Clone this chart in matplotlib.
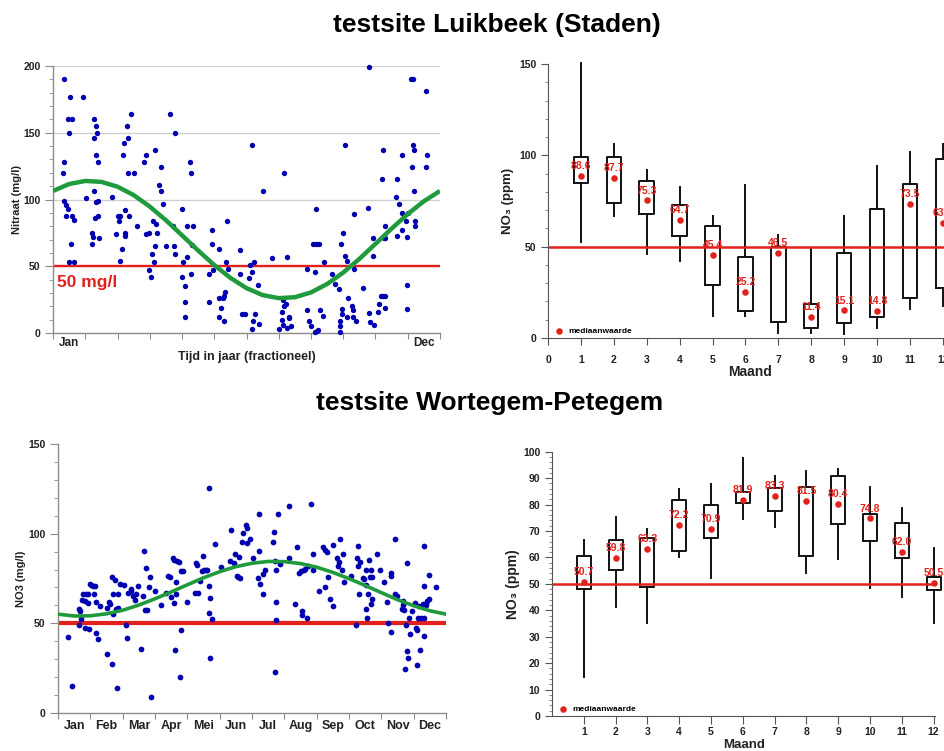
import matplotlib
matplotlib.use('Agg')
import matplotlib.pyplot as plt
from matplotlib.ticker import MultipleLocator

plt.rcParams['font.family'] = ['Liberation Sans', 'DejaVu Sans']
plt.rcParams['font.weight'] = 'bold'

RED = '#e3211c'
BLUE = '#0000b0'
GREEN = '#1f9a3c'

# ---------------- data ----------------
title_top = 'testsite Luikbeek (Staden)'
title_bottom = 'testsite Wortegem-Petegem'
months_nl = ['Jan', 'Feb', 'Mar', 'Apr', 'Mei', 'Jun', 'Jul', 'Aug', 'Sep', 'Oct', 'Nov', 'Dec']

# Luikbeek scatter: time as fraction of year, nitrate mg/l
luik_t = [0.028, 0.028, 0.026, 0.028, 0.034, 0.039, 0.034, 0.050, 0.053, 0.047, 0.041, 0.053, 0.043, 0.039,
          0.050, 0.041, 0.078, 0.086, 0.100, 0.102, 0.103, 0.106, 0.106, 0.112, 0.114, 0.110, 0.116, 0.106,
          0.112, 0.115, 0.108, 0.116, 0.119, 0.152, 0.163, 0.168, 0.171, 0.174, 0.174, 0.179, 0.182, 0.183,
          0.185, 0.186, 0.185, 0.190, 0.195, 0.195, 0.196, 0.201, 0.209, 0.216, 0.235, 0.239, 0.241, 0.247,
          0.247, 0.254, 0.255, 0.259, 0.264, 0.260, 0.264, 0.267, 0.269, 0.274, 0.278, 0.280, 0.283, 0.291,
          0.302, 0.309, 0.316, 0.313, 0.316, 0.334, 0.336, 0.334, 0.341, 0.342, 0.342, 0.347, 0.346, 0.353,
          0.356, 0.358, 0.362, 0.357, 0.403, 0.403, 0.411, 0.412, 0.414, 0.428, 0.429, 0.430, 0.435, 0.438,
          0.441, 0.444, 0.446, 0.441, 0.452, 0.449, 0.482, 0.484, 0.489, 0.496, 0.507, 0.510, 0.513, 0.513,
          0.513, 0.517, 0.520, 0.522, 0.530, 0.532, 0.542, 0.565, 0.584, 0.591, 0.592, 0.594, 0.596, 0.597,
          0.595, 0.601, 0.605, 0.609, 0.605, 0.610, 0.614, 0.657, 0.657, 0.662, 0.666, 0.671, 0.677, 0.679,
          0.679, 0.688, 0.677, 0.683, 0.685, 0.690, 0.697, 0.701, 0.720, 0.728, 0.740, 0.741, 0.741, 0.741,
          0.744, 0.747, 0.748, 0.750, 0.754, 0.754, 0.759, 0.759, 0.763, 0.772, 0.776, 0.776, 0.778, 0.779,
          0.783, 0.802, 0.814, 0.816, 0.817, 0.819, 0.826, 0.827, 0.830, 0.840, 0.843, 0.847, 0.851, 0.853,
          0.853, 0.855, 0.858, 0.858, 0.857, 0.859, 0.886, 0.888, 0.890, 0.895, 0.902, 0.903, 0.903, 0.912,
          0.914, 0.916, 0.916, 0.918, 0.925, 0.931, 0.927, 0.931, 0.933, 0.933, 0.935, 0.935, 0.964, 0.964,
          0.966]
luik_v = [190, 128, 120, 99, 96, 93, 88, 88, 85, 67, 53, 53, 177, 160,
          160, 150, 177, 101, 67, 75, 72, 160, 146, 155, 150, 133, 128, 106,
          98, 99, 86, 88, 71, 102, 74, 88, 84, 88, 54, 63, 133, 142,
          92, 75, 73, 155, 146, 120, 88, 164, 120, 80, 128, 74, 133, 75,
          47, 42, 59, 84, 137, 53, 65, 82, 75, 111, 106, 124, 97, 65,
          164, 80, 150, 65, 59, 93, 53, 42, 35, 23, 12, 80, 57, 128,
          120, 66, 80, 44, 44, 23, 77, 67, 47, 63, 26, 12, 19, 26,
          28, 31, 53, 9, 48, 84, 62, 44, 14, 14, 41, 51, 46, 141,
          3, 9, 53, 14, 36, 7, 106, 56, 3, 10, 16, 25, 20, 120,
          6, 22, 57, 12, 4, 11, 5, 48, 17, 9, 5, 67, 46, 93,
          67, 67, 0.5, 1.5, 2, 17, 13, 53, 44, 37, 33, 9, 5, 1,
          67, 14, 18, 75, 141, 58, 54, 12, 26, 20, 17, 12, 89, 48,
          9, 34, 94, 199, 15, 8, 71, 58, 6, 16, 22, 28, 115, 137,
          28, 71, 80, 71, 19, 28, 102, 115, 73, 97, 133, 90, 77, 84,
          72, 36, 18, 90, 190, 190, 124, 141, 137, 106, 84, 80, 181, 124,
          133]

# seasonal fit curves, read every half month
fit_t = [i / 24 for i in range(25)]
luik_fit = [106.4, 111.6, 113.9, 113.2, 109.6, 103.3, 94.7, 84.5, 73.2, 61.8, 50.9, 41.3, 33.6,
            28.4, 26.1, 26.8, 30.4, 36.7, 45.3, 55.5, 66.8, 78.2, 89.1, 98.7, 106.4]
wort_fit = [55.1, 54.1, 54.2, 55.3, 57.3, 60.2, 63.7, 67.5, 71.5, 75.4, 78.8, 81.6, 83.5,
            84.5, 84.4, 83.3, 81.3, 78.4, 74.9, 71.1, 67.1, 63.2, 59.8, 57.0, 55.1]

# Wortegem scatter
wort_t = [0.026, 0.036, 0.053, 0.056, 0.059, 0.055, 0.063, 0.064, 0.071, 0.076, 0.069, 0.077, 0.080, 0.069,
          0.082, 0.086, 0.090, 0.095, 0.092, 0.097, 0.097, 0.103, 0.107, 0.125, 0.127, 0.132, 0.133, 0.138,
          0.139, 0.142, 0.142, 0.146, 0.150, 0.152, 0.155, 0.155, 0.161, 0.169, 0.174, 0.179, 0.181, 0.187,
          0.189, 0.193, 0.198, 0.202, 0.206, 0.214, 0.218, 0.221, 0.225, 0.228, 0.230, 0.234, 0.238, 0.240,
          0.251, 0.265, 0.277, 0.284, 0.289, 0.292, 0.297, 0.298, 0.299, 0.301, 0.303, 0.304, 0.307, 0.311,
          0.316, 0.314, 0.318, 0.322, 0.333, 0.352, 0.355, 0.357, 0.361, 0.365, 0.370, 0.374, 0.376, 0.381,
          0.383, 0.389, 0.390, 0.390, 0.391, 0.391, 0.398, 0.404, 0.421, 0.443, 0.445, 0.454, 0.456, 0.460,
          0.464, 0.466, 0.469, 0.475, 0.477, 0.484, 0.488, 0.488, 0.496, 0.503, 0.516, 0.518, 0.519, 0.520,
          0.529, 0.527, 0.533, 0.555, 0.556, 0.559, 0.560, 0.561, 0.563, 0.563, 0.567, 0.572, 0.594, 0.596,
          0.610, 0.615, 0.622, 0.625, 0.628, 0.630, 0.634, 0.636, 0.642, 0.645, 0.653, 0.656, 0.658, 0.673,
          0.684, 0.688, 0.689, 0.692, 0.696, 0.701, 0.708, 0.709, 0.720, 0.722, 0.725, 0.728, 0.731, 0.735,
          0.737, 0.754, 0.768, 0.771, 0.772, 0.774, 0.778, 0.776, 0.787, 0.789, 0.794, 0.795, 0.795, 0.797,
          0.800, 0.802, 0.804, 0.806, 0.806, 0.808, 0.810, 0.821, 0.830, 0.840, 0.847, 0.850, 0.857, 0.857,
          0.858, 0.868, 0.868, 0.874, 0.886, 0.888, 0.890, 0.892, 0.894, 0.896, 0.899, 0.900, 0.902, 0.905,
          0.907, 0.911, 0.920, 0.923, 0.924, 0.926, 0.929, 0.931, 0.933, 0.936, 0.940, 0.942, 0.943, 0.943,
          0.944, 0.948, 0.952, 0.955, 0.957, 0.974]
wort_v = [42.4, 14.9, 57.9, 57.0, 52.3, 49.0, 63.0, 66.6, 66.6, 66.6, 62.5, 61.4, 46.7, 47.6,
          71.8, 71.3, 71.0, 71.0, 66.3, 62.0, 44.7, 41.5, 59.7, 58.8, 32.8, 62.0, 61.0, 75.6,
          27.5, 66.6, 55.0, 74.4, 57.9, 14.1, 66.6, 58.3, 71.8, 71.3, 49.3, 42.0, 67.0, 68.0,
          69.4, 65.5, 63.0, 66.6, 71.0, 35.5, 65.3, 90.3, 57.3, 80.6, 57.3, 70.2, 75.6, 8.9,
          68.0, 60.3, 67.0, 76.5, 76.0, 64.8, 86.5, 85.2, 61.2, 35.4, 66.6, 72.8, 84.7, 84.3,
          46.2, 20.3, 79.3, 79.3, 62.0, 67.0, 83.4, 82.5, 67.0, 73.7, 79.1, 87.5, 79.7, 79.8,
          79.7, 125.4, 71.0, 55.8, 64.4, 30.9, 52.3, 94.4, 81.3, 84.9, 102.0, 83.8, 88.6, 76.5,
          76.0, 87.1, 75.2, 95.3, 100.5, 104.6, 102.9, 94.9, 97.3, 86.7, 75.4, 90.6, 110.7, 71.8,
          66.3, 77.4, 79.8, 95.5, 100.9, 22.9, 85.0, 79.7, 62.0, 51.9, 110.7, 83.0, 115.4, 86.7,
          60.7, 92.3, 78.0, 79.3, 56.8, 54.9, 80.0, 80.4, 53.0, 81.9, 116.5, 88.6, 80.0, 67.9,
          92.3, 70.4, 90.8, 89.9, 75.6, 63.5, 59.6, 93.4, 86.5, 81.9, 84.3, 97.3, 80.0, 88.6,
          72.8, 76.5, 49.0, 86.5, 93.1, 81.9, 84.3, 66.3, 75.0, 74.6, 71.3, 79.7, 57.9, 53.0,
          66.6, 85.2, 75.6, 61.0, 79.7, 63.8, 75.9, 88.6, 79.7, 72.8, 62.0, 50.4, 44.9, 78.2,
          76.5, 97.3, 66.6, 65.3, 57.9, 62.5, 60.3, 57.3, 24.4, 49.0, 34.4, 83.9, 30.9, 53.2,
          44.3, 56.8, 61.6, 47.5, 26.6, 46.5, 52.7, 59.7, 35.4, 52.7, 61.0, 52.7, 43.0, 70.9,
          93.1, 60.1, 62.3, 77.2, 63.5, 70.4]

# monthly box statistics (Luikbeek)
month_num = list(range(1, 13))
luik_whislo = [52.4, 66.6, 46.2, 42.2, 12.0, 12.0, 2.9, 2.9, 2.2, 5.7, 15.7, 17.7]
luik_q1 = [85.0, 73.7, 67.9, 55.8, 28.8, 14.6, 8.9, 5.7, 8.4, 11.3, 21.9, 27.2]
luik_med = [88.6, 87.7, 75.3, 64.7, 45.4, 25.2, 46.5, 11.4, 15.1, 14.8, 73.5, 63.1]
luik_q3 = [98.9, 98.9, 85.8, 72.8, 61.3, 44.2, 50.0, 18.6, 46.5, 70.8, 84.1, 98.0]
luik_whishi = [150.7, 106.4, 91.8, 82.7, 67.0, 84.0, 56.2, 48.7, 66.6, 94.0, 102.0, 106.0]

# monthly box statistics (Wortegem)
wort_whislo = [14.6, 41.4, 35.3, 60.0, 52.1, 74.5, 71.4, 54.2, 59.5, 48.4, 44.9, 35.2]
wort_q1 = [47.9, 55.1, 48.9, 62.5, 67.2, 80.7, 77.4, 60.5, 72.5, 66.3, 59.6, 47.5]
wort_med = [50.7, 59.8, 63.3, 72.2, 70.9, 81.9, 83.3, 81.5, 80.4, 74.8, 62.0, 50.5]
wort_q3 = [60.4, 66.5, 67.3, 81.7, 79.7, 84.6, 86.4, 86.8, 90.8, 76.4, 73.0, 52.7]
wort_whishi = [66.6, 75.3, 70.9, 85.9, 87.8, 97.5, 90.8, 92.7, 93.6, 86.5, 78.6, 63.4]

norm = 50

# ---------------- figure ----------------
fig = plt.figure(figsize=(9.45, 7.51), dpi=100)

fig.text(0.526, 0.9667, title_top, ha='center', va='center', fontsize=19, weight='bold')
fig.text(0.5185, 0.4634, title_bottom, ha='center', va='center', fontsize=19, weight='bold')

month_edges = [i / 12 for i in range(13)]
month_mids = [(i + 0.5) / 12 for i in range(12)]


def style_scatter_axes(ax, ymax, ystep, ylabel):
    ax.set_xlim(0, 1)
    ax.set_ylim(0, ymax)
    for s in ['top', 'right']:
        ax.spines[s].set_visible(False)
    for s in ['left', 'bottom']:
        ax.spines[s].set_color('#8c8c8c')
        ax.spines[s].set_linewidth(1.0)
    ax.yaxis.set_major_locator(MultipleLocator(ystep))
    ax.yaxis.set_minor_locator(MultipleLocator(10))
    ax.tick_params(axis='y', which='major', length=6, width=0.8, color='#8c8c8c', labelsize=7.5,
                   labelcolor='#222222', pad=3)
    ax.tick_params(axis='y', which='minor', length=3, width=0.6, color='#8c8c8c')
    ax.set_xticks(month_edges)
    ax.set_xticklabels([])
    ax.tick_params(axis='x', which='major', length=4, width=0.8, color='#8c8c8c')
    ax.set_xticks(month_mids, minor=True)
    ax.tick_params(axis='x', which='minor', length=0, labelcolor='#222222')
    ax.set_ylabel(ylabel, fontsize=8, weight='bold', color='#222222')


# --- panel 1: Luikbeek scatter ---
ax1 = fig.add_axes([0.0561, 0.5566, 0.4095, 0.3555])
style_scatter_axes(ax1, 200, 50, 'Nitraat (mg/l)')
ax1.yaxis.grid(True, color='#cfcfcf', lw=0.9)
ax1.set_axisbelow(True)
ax1.set_xticklabels(['Jan'] + [''] * 10 + ['Dec'], minor=True, fontsize=8.5, weight='bold')
ax1.tick_params(axis='x', which='minor', pad=3)
ax1.set_xlabel('Tijd in jaar (fractioneel)', fontsize=9, weight='bold', color='#222222', labelpad=1)
ax1.yaxis.set_label_coords(-0.08, 0.5)
ax1.axhline(norm, color=RED, lw=1.7, zorder=2)
ax1.scatter(luik_t, luik_v, s=15, color=BLUE, zorder=3, clip_on=False, linewidths=0)
ax1.plot(fit_t, luik_fit, color=GREEN, lw=3.2, zorder=4, solid_capstyle='butt')
ax1.text(0.01, 38, '50 mg/l', color=RED, fontsize=12.5, weight='bold', va='center', ha='left')

# --- panel 3: Wortegem scatter ---
ax3 = fig.add_axes([0.0614, 0.0506, 0.4106, 0.3582])
style_scatter_axes(ax3, 150, 50, 'NO3 (mg/l)')
ax3.set_xticklabels(months_nl, minor=True, fontsize=9, weight='bold')
ax3.tick_params(axis='x', which='minor', pad=5)
ax3.yaxis.set_label_coords(-0.082, 0.5)
ax3.axhline(norm, color=RED, lw=3.0, zorder=2)
ax3.scatter(wort_t, wort_v, s=17, color=BLUE, zorder=3, clip_on=False, linewidths=0)
ax3.plot(fit_t, wort_fit, color=GREEN, lw=2.6, zorder=4)


def box_panel(ax, lo, q1, med, q3, hi, ymax, ymajor, yminor, xmax, show_zero):
    stats = []
    for i in range(12):
        stats.append(dict(whislo=lo[i], q1=q1[i], med=med[i], q3=q3[i], whishi=hi[i]))
    ax.bxp(stats, positions=month_num, widths=0.44, showcaps=False, showfliers=False,
           boxprops=dict(color='#111111', lw=1.4), whiskerprops=dict(color='#111111', lw=1.4),
           medianprops=dict(lw=0), manage_ticks=False)
    for art in ax.lines:
        art.set_clip_on(False)
    ax.axhline(norm, color=RED, lw=1.8, zorder=2.5)
    ax.scatter(month_num, med, s=22, color=RED, zorder=4, clip_on=False, linewidths=0,
               label='mediaanwaarde')
    for m, v in zip(month_num, med):
        ax.annotate(f'{v:.1f}', (m, v), xytext=(0, 7), textcoords='offset points', ha='center',
                    va='center', color=RED, fontsize=7.5, weight='bold', zorder=5)
    ax.set_xlim(0, xmax)
    ax.set_ylim(0, ymax)
    for s in ['top', 'right']:
        ax.spines[s].set_visible(False)
    for s in ['left', 'bottom']:
        ax.spines[s].set_color('#555555')
    ax.set_xticks(([0] if show_zero else []) + month_num)
    ax.yaxis.set_major_locator(MultipleLocator(ymajor))
    ax.yaxis.set_minor_locator(MultipleLocator(yminor))
    ax.tick_params(axis='both', which='major', length=5, width=0.8, color='#555555', labelsize=7.5,
                   labelcolor='#222222')
    ax.tick_params(axis='x', which='major', pad=7)
    ax.tick_params(axis='y', which='minor', length=2.5, width=0.6, color='#777777')
    ax.legend(loc='lower left', frameon=False, fontsize=6, handletextpad=0.1, borderaxespad=0.15,
              borderpad=0.2, markerscale=1.0)
    ax.set_xlabel('Maand', fontsize=10, weight='bold', color='#222222', labelpad=0)


# --- panel 2: Luikbeek boxes ---
ax2 = fig.add_axes([0.5799, 0.5499, 0.4283, 0.3648])
box_panel(ax2, luik_whislo, luik_q1, luik_med, luik_q3, luik_whishi, 150, 50, 10, 12.3, True)
ax2.set_ylabel('NO₃ (ppm)', fontsize=9.5, weight='bold', color='#222222')
ax2.yaxis.set_label_coords(-0.083, 0.5)

# --- panel 4: Wortegem boxes ---
ax4 = fig.add_axes([0.5841, 0.0466, 0.4055, 0.3519])
box_panel(ax4, wort_whislo, wort_q1, wort_med, wort_q3, wort_whishi, 100, 10, 2, 12.05, False)
ax4.tick_params(axis='x', which='major', length=6, pad=2)
ax4.set_xlabel('Maand', fontsize=9.5, weight='bold', color='#222222', labelpad=1)
ax4.set_ylabel('NO₃ (ppm)', fontsize=10, weight='bold', color='#222222')
ax4.yaxis.set_label_coords(-0.084, 0.5)

fig.savefig('out.png', dpi=100)
